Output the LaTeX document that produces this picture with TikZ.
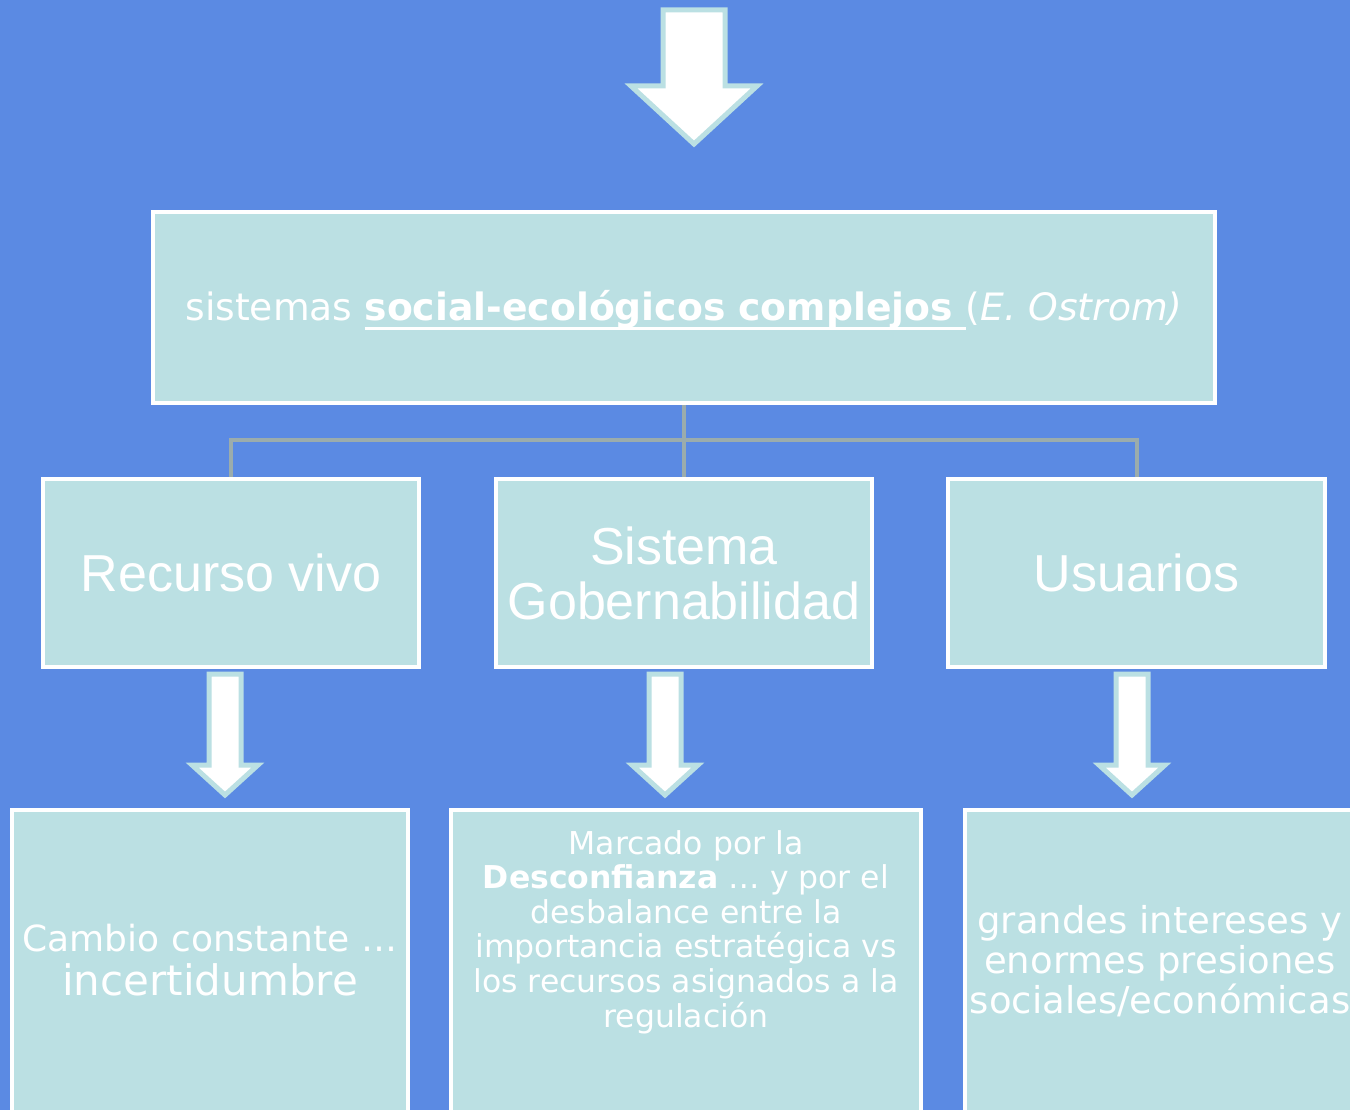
\documentclass[tikz,border=0pt]{standalone}
\usepackage{fontspec}
\setmainfont{DejaVu Sans}
\newfontfamily\arialfont{Liberation Sans}
\newcommand\myul[1]{\setbox0\hbox{#1}\rlap{\rule[-9pt]{\wd0}{3pt}}\box0}
\definecolor{bgblue}{RGB}{91,138,227}
\definecolor{boxfill}{RGB}{187,224,227}
\definecolor{linkgray}{RGB}{155,172,172}
\tikzset{
  card/.style={draw=white, line width=4pt, fill=boxfill, inner sep=0pt, anchor=center},
  cardtext/.style={text=white, align=center, inner sep=0pt},
  link/.style={draw=linkgray, line width=4pt},
  fatarrow/.style={fill=white, draw=boxfill, line width=5pt, line join=miter},
}
% \downarrowshape{cx}{top}{shaft half}{head base y}{head half}{tip y}
\newcommand\downarrowshape[6]{%
  \path[fatarrow] (#1-#3,#2) -- (#1+#3,#2) -- (#1+#3,#4) -- (#1+#5,#4) -- (#1,#6) -- (#1-#5,#4) -- (#1-#3,#4) -- cycle;}
\begin{document}
\begin{tikzpicture}[x=1pt,y=-1pt]
\useasboundingbox (0,0) rectangle (1350,1110);
\clip (0,0) rectangle (1350,1110);
\fill[bgblue] (0,0) rectangle (1350,1110);

% top arrow
\downarrowshape{694}{10}{31}{86}{63}{144}

% top box
\node[card, minimum width=1062pt, minimum height=191pt] (top) at (684,307.5) {};
\node[cardtext, font=\fontsize{37.7}{44}\selectfont] (toptext) at (684,310) {sistemas \textbf{\myul{social-ecológicos complejos }}(\textit{E. Ostrom)}};

% middle boxes
\node[card, minimum width=376pt, minimum height=188pt] (rec) at (231,573) {};
\node[card, minimum width=376pt, minimum height=188pt] (gob) at (684,573) {};
\node[card, minimum width=377pt, minimum height=188pt] (usu) at (1136.5,573) {};
\node[cardtext, font=\arialfont\fontsize{52}{55}\selectfont] (rect) at (231,573) {Recurso vivo};
\node[cardtext, font=\arialfont\fontsize{52}{55}\selectfont] (gobt) at (684,573) {Sistema\\Gobernabilidad};
\node[cardtext, font=\arialfont\fontsize{52}{55}\selectfont] (usut) at (1136.5,573) {Usuarios};

% connectors
\coordinate (j) at (684,440);
\draw[link] (top.south) -- (j);
\draw[link] (rec.north) |- (j);
\draw[link] (usu.north) |- (j);
\draw[link] (gob.north) -- (j);

% small arrows
\downarrowshape{225}{674}{16}{765}{33}{795}
\downarrowshape{665}{674}{16}{765}{33}{795}
\downarrowshape{1132}{674}{16}{765}{33}{795}

% bottom boxes
\node[card, minimum width=396pt, minimum height=340pt] (b1) at (210,980) {};
\node[card, minimum width=470pt, minimum height=340pt] (b2) at (686,980) {};
\node[card, minimum width=391pt, minimum height=340pt] (b3) at (1160,980) {};

\node[cardtext, font=\fontsize{36}{44}\selectfont] (b1t) at (210,960) {Cambio constante …\\{\fontsize{42}{44}\selectfont incertidumbre}};
\node[cardtext, font=\fontsize{31.5}{34.6}\selectfont] (b2t) at (686,932) {Marcado por la\\\textbf{Desconfianza} … y por el\\desbalance entre la\\importancia estratégica vs\\los recursos asignados a la\\regulación};
\node[cardtext, font=\fontsize{37}{40}\selectfont] (b3t) at (1160,961) {grandes intereses y\\enormes presiones\\sociales/económicas};
\end{tikzpicture}
\end{document}
